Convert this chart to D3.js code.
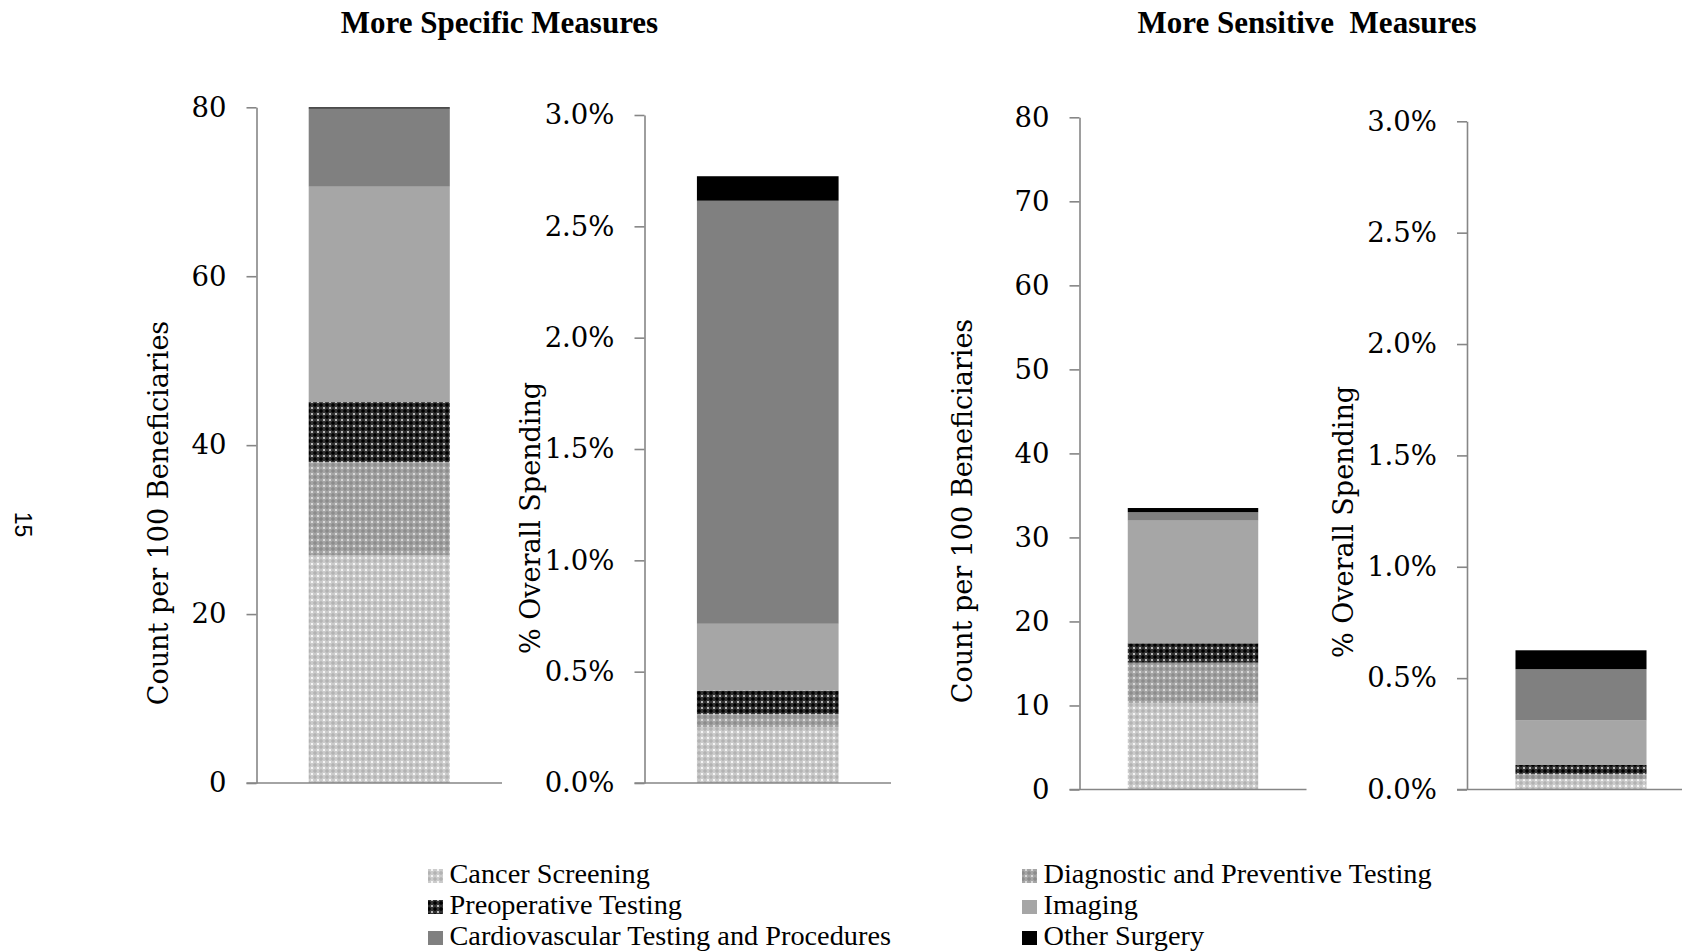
<!DOCTYPE html>
<html><head><meta charset="utf-8">
<script src="https://cdn.jsdelivr.net/npm/d3@7"></script>
<style>
html,body{margin:0;padding:0;background:#fff;}
svg{display:block;}
</style></head><body>
<svg id="chart" width="1682" height="951"></svg>
<script>
// ---- data ----
const seriesNames = ["Cancer Screening", "Diagnostic and Preventive Testing", "Preoperative Testing", "Imaging", "Cardiovascular Testing and Procedures", "Other Surgery"];
const specificCount = [27.0, 11.0, 7.1, 25.5, 9.25, 0.15];
const specificSpending = [0.25, 0.06, 0.105, 0.30, 1.90, 0.11];
const sensitiveCount = [10.3, 4.8, 2.3, 14.6, 1.0, 0.5];
const sensitiveSpending = [0.045, 0.025, 0.04, 0.20, 0.23, 0.085];
const groupTitles = ["More Specific Measures", "More Sensitive  Measures"];
const countTicksSpecific = [0, 20, 40, 60, 80];
const countTicksSensitive = [0, 10, 20, 30, 40, 50, 60, 70, 80];
const spendingTicks = [0, 0.5, 1.0, 1.5, 2.0, 2.5, 3.0];
const countTitle = "Count per 100 Beneficiaries";
const spendTitle = "% Overall Spending";
const pageNumber = "15";

// ---- styles ----
const svg = d3.select("#chart");
const defs = svg.append("defs");
const patternSpecs = [
  {id: "pCancer", base: "#cccccc", star: "#b3b3b3", dot: "#ffffff"},
  {id: "pDiag", base: "#a6a6a6", star: "#8c8c8c", dot: "#e6e6e6"},
  {id: "pPreop", base: "#333333", star: "#000000", dot: "#d8d8d8"}
];
patternSpecs.forEach(p => {
  const pat = defs.append("pattern").attr("id", p.id).attr("patternUnits", "userSpaceOnUse")
    .attr("width", 6).attr("height", 6);
  pat.append("rect").attr("width", 6).attr("height", 6).attr("fill", p.base);
  pat.append("path").attr("d", "M3,0.8L5.2,3L3,5.2L0.8,3Z").attr("fill", p.star);
  [[0,0],[6,0],[0,6],[6,6]].forEach(c => pat.append("circle").attr("cx", c[0]).attr("cy", c[1]).attr("r", 1.1).attr("fill", p.dot));
});
const seriesFills = ["url(#pCancer)", "url(#pDiag)", "url(#pPreop)", "#a6a6a6", "#808080", "#000000"];
const axisColor = "#868686";
const serif = "'DejaVu Serif', serif";
const legendFont = "'Liberation Serif', serif";

const pctFmt = d => d.toFixed(1) + "%";
const panels = [
  {values: specificCount, max: 80, ticks: countTicksSpecific, fmt: d => d, axisX: 256.5, xEnd: 502, yTop: 107.3, yBottom: 783, title: countTitle, titleX: 168, titleY: 513},
  {values: specificSpending, max: 3, ticks: spendingTicks, fmt: pctFmt, axisX: 644.5, xEnd: 891, yTop: 115, yBottom: 783, title: spendTitle, titleX: 540, titleY: 518},
  {values: sensitiveCount, max: 80, ticks: countTicksSensitive, fmt: d => d, axisX: 1079.5, xEnd: 1306.5, yTop: 117.3, yBottom: 789.5, title: countTitle, titleX: 972, titleY: 511},
  {values: sensitiveSpending, max: 3, ticks: spendingTicks, fmt: pctFmt, axisX: 1467, xEnd: 1695, yTop: 121.3, yBottom: 789.5, title: spendTitle, titleX: 1353, titleY: 522}
];

panels.forEach((p, pi) => {
  const g = svg.append("g");
  const y = d3.scaleLinear().domain([0, p.max]).range([p.yBottom, p.yTop]);
  const x = d3.scaleBand().domain(["bar"]).range([p.axisX, p.xEnd]).paddingInner(0).paddingOuter(0.37);
  const row = {key: "bar"};
  seriesNames.forEach((s, i) => row[s] = p.values[i]);
  const stacked = d3.stack().keys(seriesNames)([row]);
  g.selectAll("rect.seg").data(stacked).join("rect")
    .attr("class", "seg")
    .attr("x", d => x("bar"))
    .attr("width", x.bandwidth())
    .attr("y", d => y(d[0][1]))
    .attr("height", d => y(d[0][0]) - y(d[0][1]))
    .attr("fill", (d, i) => seriesFills[i]);

  // baseline
  g.append("line")
    .attr("x1", p.axisX - 10).attr("x2", p.xEnd)
    .attr("y1", y(0)).attr("y2", y(0))
    .attr("stroke", axisColor).attr("stroke-width", 1.6);

  const ax = g.append("g").attr("transform", `translate(${p.axisX},0)`)
    .call(d3.axisLeft(y).tickValues(p.ticks).tickFormat(p.fmt).tickSize(10).tickSizeOuter(0).tickPadding(20));
  ax.select(".domain").attr("stroke", axisColor).attr("stroke-width", 1.6);
  ax.selectAll(".tick line").attr("stroke", axisColor).attr("stroke-width", 1.6);
  ax.selectAll(".tick text").attr("fill", "#000").style("font-family", serif).style("font-size", "27.5px");

  g.append("text")
    .attr("transform", `translate(${p.titleX},${p.titleY}) rotate(-90)`)
    .attr("text-anchor", "middle")
    .style("font-family", serif).style("font-size", "27px").attr("fill", "#000")
    .text(p.title);
});

// group titles
const titleCenters = [499.5, 1307];
groupTitles.forEach((t, i) => {
  svg.append("text").attr("x", titleCenters[i]).attr("y", 33)
    .attr("text-anchor", "middle")
    .style("font-family", legendFont).style("font-weight", "bold").style("font-size", "31px")
    .style("white-space", "pre").attr("xml:space", "preserve")
    .text(t);
});

// page number
svg.append("text").attr("transform", "translate(15,524.5) rotate(90)")
  .attr("text-anchor", "middle")
  .style("font-family", "'Liberation Sans', sans-serif").style("font-size", "23px")
  .text(pageNumber);

// legend
const legendCols = [428, 1022];
const legendRows = [883, 914, 945];
const lg = svg.append("g");
seriesNames.forEach((s, i) => {
  const cx = legendCols[i % 2];
  const by = legendRows[Math.floor(i / 2)];
  lg.append("rect").attr("x", cx).attr("y", by - 14).attr("width", 15).attr("height", 14).attr("fill", seriesFills[i]);
  lg.append("text").attr("x", cx + 21.5).attr("y", by)
    .style("font-family", legendFont).style("font-size", "28.3px").attr("fill", "#000")
    .text(s);
});
</script>
</body></html>
